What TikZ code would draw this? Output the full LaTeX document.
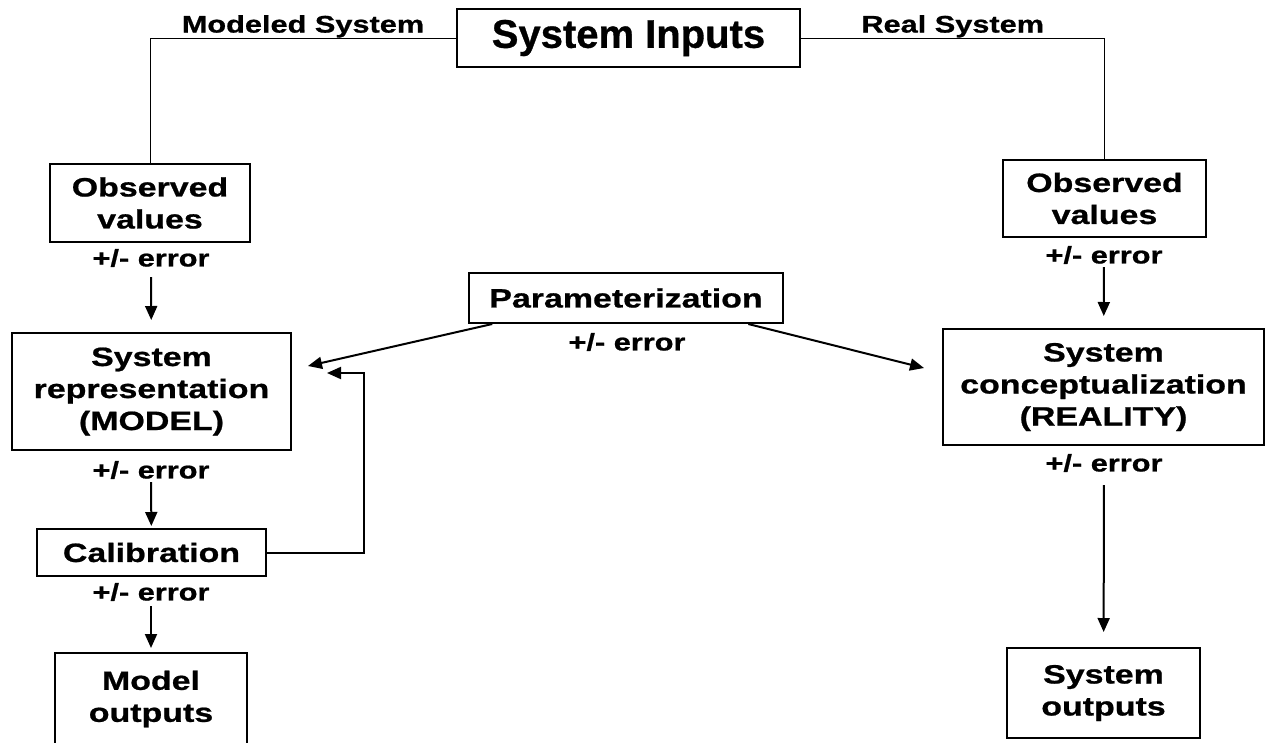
\documentclass[tikz,border=0pt]{standalone}
\usepackage{fontspec}
\newfontfamily\figfont{Liberation Sans}[FakeStretch=1.28, FakeBold=0.8]
\newfontfamily\bigfont{Liberation Sans}[FakeBold=0.8]
\usetikzlibrary{arrows.meta}

\begin{document}
\begin{tikzpicture}[x=1pt, y=-1pt,
  box/.style={draw=black, line width=2pt, inner sep=0pt, align=center, font=\figfont\bfseries\fontsize{26.5}{32}\selectfont},
  err/.style={inner sep=0pt, font=\figfont\bfseries\fontsize{24}{28}\selectfont},
  flow/.style={-{Triangle[length=14pt,width=12pt]}, line width=2pt, draw=black},
  wire/.style={line width=0.9pt, draw=black}]
\useasboundingbox[fill=white] (0,0) rectangle (1267,742);
\node[box, minimum width=343pt, minimum height=58pt, font=\bigfont\bfseries\fontsize{40}{44}\selectfont] (inputs) at (628.5,38) {System Inputs};
\node[box, minimum width=200pt, minimum height=78pt] (obsL) at (150,203) {Observed\\values};
\node[err] (errL1) at (151,258) {+/- error};
\node[box, minimum width=279pt, minimum height=117pt] (model) at (151.5,391.5) {System\\representation\\(MODEL)};
\node[err] (errL2) at (151,470) {+/- error};
\node[box, minimum width=229pt, minimum height=47pt] (calib) at (151.5,552.5) {Calibration};
\node[err] (errL3) at (151,592) {+/- error};
\node[box, minimum width=192pt, minimum height=92pt] (modout) at (151,699) {Model\\outputs};
\node[box, minimum width=314pt, minimum height=50pt] (param) at (626,298) {Parameterization};
\node[err] (errP) at (627,342) {+/- error};
\node[box, minimum width=203pt, minimum height=77pt] (obsR) at (1104.5,198.5) {Observed\\values};
\node[err] (errR1) at (1104,255) {+/- error};
\node[box, minimum width=321pt, minimum height=116pt] (reality) at (1103.5,387) {System\\conceptualization\\(REALITY)};
\node[err] (errR2) at (1104,463) {+/- error};
\node[box, minimum width=193pt, minimum height=90pt] (sysout) at (1103.5,693) {System\\outputs};
\coordinate (modelin) at ([shift={(16,-25.5)}]model.east);
\coordinate (realin) at ([shift={(-18,-19)}]reality.west);
\path [wire] (inputs.west) -- node[err, above] (lblM) {Modeled System} (inputs.west -| obsL.north) -- (obsL.north);
\path [wire] (inputs.east) -- node[err, above] (lblR) {Real System} (inputs.east -| obsR.north) -- (obsR.north);
\path [flow] (errL1) edge[shorten <=10pt, shorten >=12pt] (model);
\path [flow] (errL2) edge[shorten <=3pt, shorten >=2pt] (calib);
\path [flow] (errL3) edge[shorten <=5pt, shorten >=4pt] (modout);
\path [flow] (errR1) edge[shorten <=3pt, shorten >=12pt] (reality);
\path [flow] (errR2) edge[shorten <=13pt, shorten >=15pt] (sysout);
\draw [flow] (param.191) -- (modelin);
\draw [flow] (param.348) -- (realin);
\draw [flow] (calib.east) -| ([shift={(72,-18.5)}]model.east) -- ([shift={(35,-18.5)}]model.east);
\end{tikzpicture}
\end{document}
